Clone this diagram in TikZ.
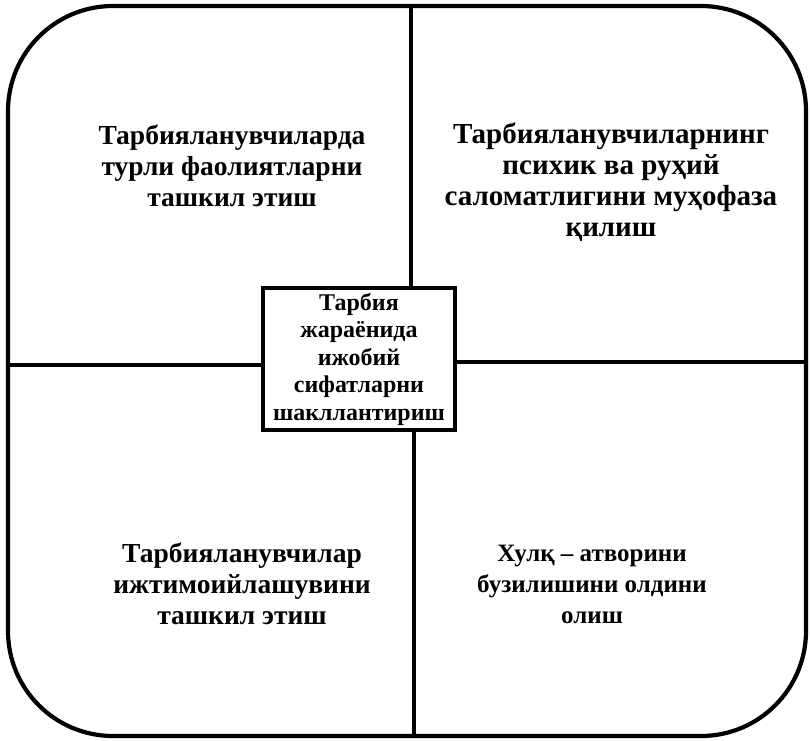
\documentclass[tikz,border=0pt]{standalone}
\usepackage{fontspec}
\setmainfont{Liberation Serif}

\begin{document}
\begin{tikzpicture}[
  x = 1pt, y = -1pt,
  % frame and cross are plain lines, the texts sit in the four fields
  field/.style  = {align=center, font=\fontsize{27.5}{31}\selectfont\bfseries},
  hub/.style    = {draw, line width=3.2pt, align=center, inner sep=4pt,
                   minimum width=192pt, minimum height=142pt,
                   font=\fontsize{24}{27.5}\selectfont\bfseries},
  cross/.style  = {line width=3.2pt},
]
\useasboundingbox (0, 0) rectangle (811, 741);

% --- outer frame
\draw[line width=4.2pt, rounded corners=105pt] (8, 6) rectangle (806, 736);

% --- centre box
\node[hub] (hub) at (359, 359) {Тарбия\\жараёнида\\ижобий\\сифатларни\\шакллантириш};

% --- ends of the cross on the frame
\coordinate (n) at (411, 6);
\coordinate (s) at (414, 736);
\coordinate (w) at (8, 365);
\coordinate (e) at (806, 362);

\draw[cross] (n) -- (n |- hub.north);
\draw[cross] (s) -- (s |- hub.south);
\draw[cross] (w) -- (w -| hub.west);
\draw[cross] (e) -- (e -| hub.east);

% --- four fields
\node[field] (tl) at (232, 166) {Тарбияланувчиларда\\турли фаолиятларни\\ташкил этиш};
\node[field, font=\fontsize{29}{31}\selectfont\bfseries] (tr) at (611, 182)
  {Тарбияланувчиларнинг\\психик ва руҳий\\саломатлигини муҳофаза\\қилиш};
\node[field] (bl) at (242, 584) {Тарбияланувчилар\\ижтимоийлашувини\\ташкил этиш};
\node[field, font=\fontsize{25}{31}\selectfont\bfseries] (br) at (592, 584)
  {Хулқ – атворини\\бузилишини олдини\\олиш};

\end{tikzpicture}
\end{document}
